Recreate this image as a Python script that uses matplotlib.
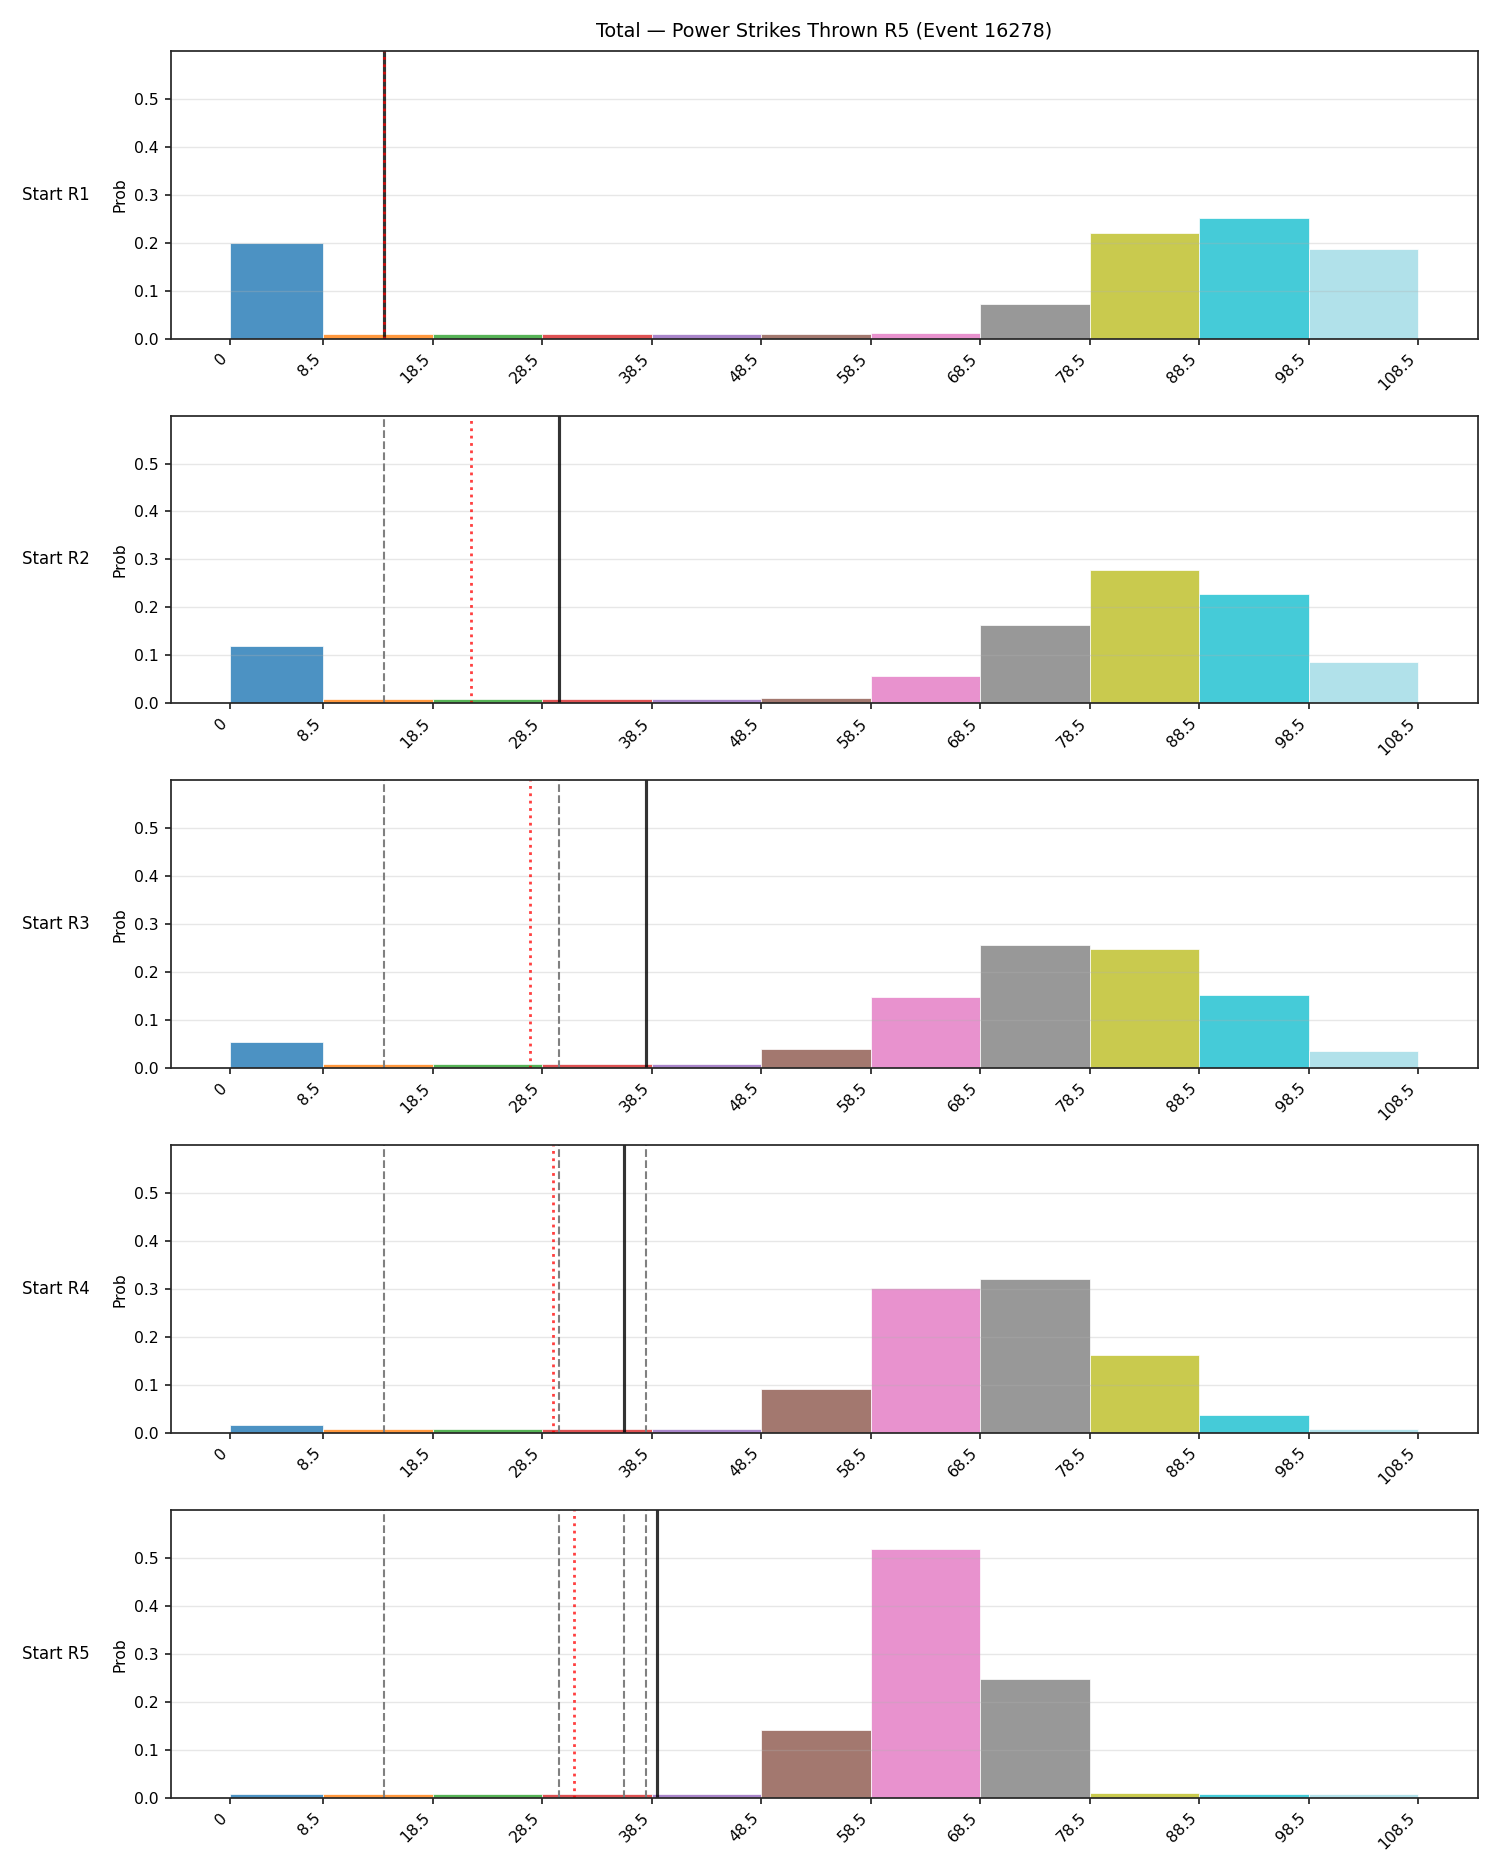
import matplotlib
matplotlib.use("Agg")
import matplotlib.pyplot as plt

# bin edges and tick labels
edges = [0, 8.5, 18.5, 28.5, 38.5, 48.5, 58.5, 68.5, 78.5, 88.5, 98.5, 108.5]
tick_labels = ["0", "8.5", "18.5", "28.5", "38.5", "48.5", "58.5", "68.5", "78.5", "88.5", "98.5", "108.5"]
bin_colors = ["#1f77b4", "#ff7f0e", "#2ca02c", "#d62728", "#9467bd", "#8c564b",
              "#e377c2", "#7f7f7f", "#bcbd22", "#17becf", "#9edae5"]

row_labels = ["Start R1", "Start R2", "Start R3", "Start R4", "Start R5"]

# probability per bin, one list per starting round
probs_r1 = [0.200, 0.009, 0.009, 0.009, 0.009, 0.009, 0.011, 0.072, 0.221, 0.251, 0.187]
probs_r2 = [0.120, 0.009, 0.009, 0.009, 0.009, 0.011, 0.057, 0.164, 0.279, 0.229, 0.087]
probs_r3 = [0.055, 0.009, 0.009, 0.009, 0.009, 0.040, 0.149, 0.256, 0.249, 0.152, 0.037]
probs_r4 = [0.017, 0.009, 0.009, 0.009, 0.009, 0.092, 0.303, 0.321, 0.164, 0.037, 0.009]
probs_r5 = [0.009, 0.009, 0.009, 0.009, 0.009, 0.142, 0.518, 0.249, 0.011, 0.009, 0.009]
all_probs = [probs_r1, probs_r2, probs_r3, probs_r4, probs_r5]

# current value (solid), earlier values (dashed), running average (dotted)
current_vals = [14, 30, 38, 36, 39]
previous_vals = [[], [14], [14, 30], [14, 30, 38], [14, 30, 38, 36]]
avg_vals = [14, 22, 27.33, 29.5, 31.4]

fig, axes = plt.subplots(5, 1, figsize=(12, 15), dpi=125)
fig.subplots_adjust(left=0.114, right=0.985, top=0.973, bottom=0.041, hspace=0.267)

lefts = edges[:-1]
widths = [edges[i + 1] - edges[i] for i in range(len(edges) - 1)]

for i, ax in enumerate(axes):
    ax.bar(lefts, all_probs[i], width=widths, align="edge", color=bin_colors,
           alpha=0.8, edgecolor="white", linewidth=0.5)
    for v in previous_vals[i]:
        ax.axvline(v, color="gray", linestyle="--", linewidth=1.2)
    ax.axvline(current_vals[i], color="black", linewidth=1.8, alpha=0.8)
    ax.axvline(avg_vals[i], color="red", linestyle=":", linewidth=1.6, alpha=0.75)
    ax.set_ylim(0, 0.6)
    ax.set_yticks([0, 0.1, 0.2, 0.3, 0.4, 0.5])
    ax.set_xticks(edges)
    ax.set_xticklabels(tick_labels, rotation=45, ha="right", fontsize=9)
    ax.tick_params(axis="y", labelsize=9)
    ax.tick_params(width=1.0, color="#262626")
    ax.grid(axis="y", alpha=0.3)
    ax.set_ylabel("Prob", fontsize=9)
    ax.text(-0.062, 0.5, row_labels[i], transform=ax.transAxes,
            ha="right", va="center", fontsize=9.5)
    for s in ax.spines.values():
        s.set_color("#262626")
        s.set_linewidth(1.0)

axes[0].set_title("Total \u2014 Power Strikes Thrown R5 (Event 16278)", fontsize=11, pad=8)

plt.savefig("out.png")
plt.close()
